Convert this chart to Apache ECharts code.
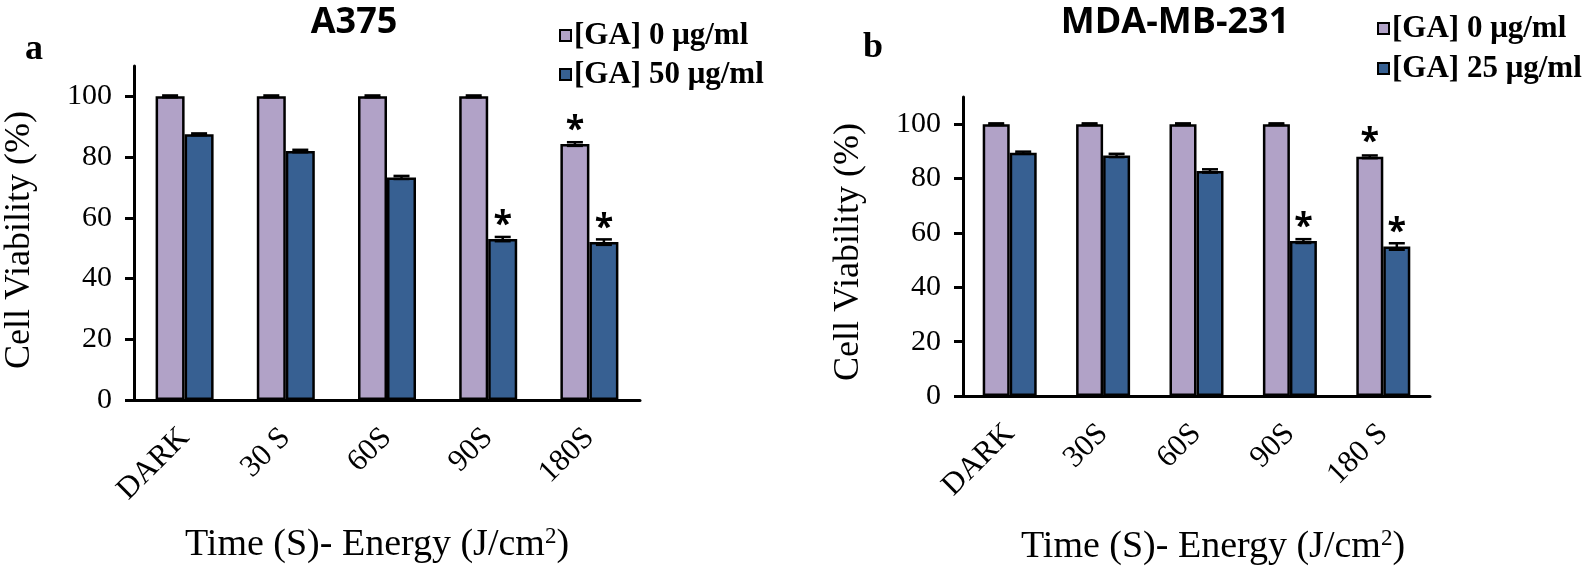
<!DOCTYPE html>
<html>
<head>
<meta charset="utf-8">
<script src="https://cdn.jsdelivr.net/npm/echarts@6/dist/echarts.min.js"></script>
<style>
html,body{margin:0;padding:0;background:#fff;}
#c{width:1594px;height:570px;}
</style>
</head>
<body>
<div id="c"></div>
<script>
// ---------- data ----------
const categoriesA = ['DARK', '30 S', '60S', '90S', '180S'];
const categoriesB = ['DARK', '30S', '60S', '90S', '180 S'];
const yTicks = [0, 20, 40, 60, 80, 100];

const nameA0 = '[GA] 0 μg/ml';
const nameA50 = '[GA] 50 μg/ml';
const nameB0 = '[GA] 0 μg/ml';
const nameB25 = '[GA] 25 μg/ml';

const a0 = [100, 100, 100, 100, 84.3];
const a50 = [87.5, 82.0, 73.3, 53.0, 52.0];
const a0Err = [0.3, 0.3, 0.3, 0.3, 0.6];
const a50Err = [0.3, 0.4, 0.5, 0.7, 0.9];
const sigA0 = [0, 0, 0, 0, 1];
const sigA50 = [0, 0, 0, 1, 1];

const b0 = [100, 100, 100, 100, 88.0];
const b25 = [89.5, 88.5, 82.8, 57.0, 55.0];
const b0Err = [0.3, 0.3, 0.3, 0.3, 0.5];
const b25Err = [0.4, 0.6, 0.6, 0.7, 1.2];
const sigB0 = [0, 0, 0, 0, 1];
const sigB25 = [0, 0, 0, 1, 1];

// ---------- style ----------
const SERIF = '"Liberation Serif", "Times New Roman", serif';
const SANS = '"Open Sans", sans-serif';
const PURPLE = '#B1A2C7';
const BLUE = '#376092';

const chart = echarts.init(document.getElementById('c'), null, {renderer: 'canvas'});

function xAxisCfg(cats, gi) {
  return {
    type: 'category', gridIndex: gi, data: cats,
    axisLine: {lineStyle: {color: '#000', width: 3}},
    axisTick: {alignWithLabel: true, length: 9, lineStyle: {color: '#000', width: 3}},
    axisLabel: {
      rotate: 45, margin: 33, color: '#000', fontFamily: SERIF, fontSize: 31,
      align: 'right', interval: 0
    },
    splitLine: {show: false}
  };
}
function yAxisCfg(gi) {
  return {
    type: 'value', gridIndex: gi, min: 0, max: 110, interval: 20,
    axisLine: {show: true, lineStyle: {color: '#000', width: 3}},
    axisTick: {show: true, length: 9, lineStyle: {color: '#000', width: 3}, customValues: yTicks},
    axisLabel: {color: '#000', fontFamily: SERIF, fontSize: 30, margin: 22, customValues: yTicks},
    splitLine: {show: false}
  };
}
function barSeries(name, data, sig, color, gi, bw) {
  return {
    type: 'bar', name: name, xAxisIndex: gi, yAxisIndex: gi,
    data: data, barWidth: bw, barGap: '0%',
    itemStyle: {color: color, borderColor: '#000', borderWidth: 2.5},
    label: {
      show: true, position: 'top', distance: -3,
      formatter: p => sig[p.dataIndex] ? '*' : '',
      color: '#000', fontFamily: SANS, fontWeight: 'bold', fontSize: 34
    },
    emphasis: {disabled: true}
  };
}
function errSeries(vals, errs, gi, side, bw) {
  return {
    type: 'custom', xAxisIndex: gi, yAxisIndex: gi, z: 4, silent: true,
    data: vals.map((v, i) => [i, v, errs[i]]),
    renderItem: function (params, api) {
      const i = api.value(0), v = api.value(1), e = api.value(2);
      const t = api.coord([i, v + e]);
      const b = api.coord([i, v - e]);
      const x = t[0] + side * bw / 2;
      const hw = 8;
      const st = {stroke: '#000', lineWidth: 2.5};
      return {type: 'group', children: [
        {type: 'line', shape: {x1: x, y1: t[1], x2: x, y2: b[1]}, style: st},
        {type: 'line', shape: {x1: x - hw, y1: t[1], x2: x + hw, y2: t[1]}, style: st},
        {type: 'line', shape: {x1: x - hw, y1: b[1], x2: x + hw, y2: b[1]}, style: st}
      ]};
    }
  };
}
function legendCfg(names, left, top, gap) {
  return {
    data: names, orient: 'vertical', left: left, top: top, itemGap: gap, padding: 0,
    icon: 'rect', itemWidth: 11, itemHeight: 11,
    itemStyle: {borderColor: '#000', borderWidth: 2},
    textStyle: {color: '#000', fontFamily: SERIF, fontWeight: 'bold', fontSize: 31, padding: [0, 0, 0, -2]},
    selectedMode: false
  };
}
const xNameRich = {
  fontFamily: SERIF, fontSize: 38, fill: '#000',
  rich: {sup: {fontFamily: SERIF, fontSize: 23, verticalAlign: 'top', padding: [0, 0, 16, 0], fill: '#000'}}
};

const option = {
  animation: false,
  backgroundColor: '#fff',
  grid: [
    {left: 134, top: 66, width: 506, height: 334},
    {left: 963, top: 97, width: 467, height: 299}
  ],
  xAxis: [xAxisCfg(categoriesA, 0), xAxisCfg(categoriesB, 1)],
  yAxis: [yAxisCfg(0), yAxisCfg(1)],
  legend: [
    legendCfg([nameA0, nameA50], 559, 20, 8),
    legendCfg([nameB0, nameB25], 1377, 13, 9)
  ],
  series: [
    barSeries(nameA0, a0, sigA0, PURPLE, 0, 29),
    barSeries(nameA50, a50, sigA50, BLUE, 0, 29),
    barSeries(nameB0, b0, sigB0, PURPLE, 1, 27),
    barSeries(nameB25, b25, sigB25, BLUE, 1, 27),
    errSeries(a0, a0Err, 0, -1, 29),
    errSeries(a50, a50Err, 0, 1, 29),
    errSeries(b0, b0Err, 1, -1, 27),
    errSeries(b25, b25Err, 1, 1, 27)
  ],
  graphic: [
    {type: 'text', x: 354, y: 23, style: {text: 'A375', fontFamily: SANS, fontWeight: 'bold', fontSize: 36, fill: '#000', align: 'center', verticalAlign: 'middle'}},
    {type: 'text', x: 1175, y: 23, style: {text: 'MDA-MB-231', fontFamily: SANS, fontWeight: 'bold', fontSize: 36, fill: '#000', align: 'center', verticalAlign: 'middle'}},
    {type: 'text', x: 34, y: 50, style: {text: 'a', fontFamily: SERIF, fontWeight: 'bold', fontSize: 36, fill: '#000', align: 'center', verticalAlign: 'middle'}},
    {type: 'text', x: 873, y: 48, style: {text: 'b', fontFamily: SERIF, fontWeight: 'bold', fontSize: 36, fill: '#000', align: 'center', verticalAlign: 'middle'}},
    {type: 'text', x: 20, y: 240, rotation: Math.PI / 2, style: {text: 'Cell Viability (%)', fontFamily: SERIF, fontSize: 36, fill: '#000', align: 'center', verticalAlign: 'middle'}},
    {type: 'text', x: 849, y: 252, rotation: Math.PI / 2, style: {text: 'Cell Viability (%)', fontFamily: SERIF, fontSize: 36, fill: '#000', align: 'center', verticalAlign: 'middle'}},
    {type: 'text', x: 377, y: 545, style: Object.assign({text: 'Time (S)- Energy (J/cm{sup|2})', align: 'center', verticalAlign: 'middle'}, xNameRich)},
    {type: 'text', x: 1213, y: 547, style: Object.assign({text: 'Time (S)- Energy (J/cm{sup|2})', align: 'center', verticalAlign: 'middle'}, xNameRich)}
  ]
};
chart.setOption(option);
</script>
</body>
</html>
